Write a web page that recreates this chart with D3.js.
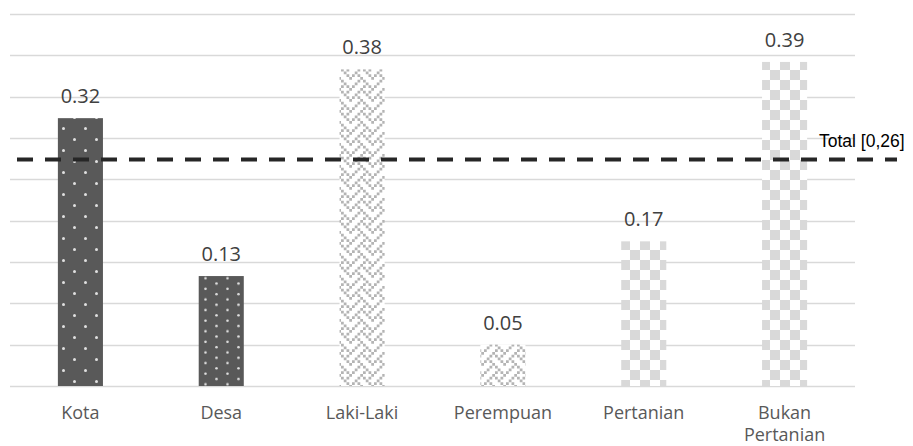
<!DOCTYPE html>
<html>
<head>
<meta charset="utf-8">
<script src="https://cdn.jsdelivr.net/npm/d3@7"></script>
<style>
  html, body { margin: 0; padding: 0; background: #fff; }
  svg { display: block; }
</style>
</head>
<body>
<svg id="chart" width="913" height="446"></svg>
<script>
// ---- data ----
const categories = ["Kota", "Desa", "Laki-Laki", "Perempuan", "Pertanian", "Bukan Pertanian"];
const values = [0.324, 0.133, 0.383, 0.05, 0.175, 0.392];
const valueLabels = ["0.32", "0.13", "0.38", "0.05", "0.17", "0.39"];
const fills = ["dotsLarge", "dotsSmall", "weave", "weave", "checker", "checker"];
const totalValue = 0.274;
const totalLabel = "Total [0,26]";
const gridTicks = [0, 0.05, 0.1, 0.15, 0.2, 0.25, 0.3, 0.35, 0.4, 0.45];

// ---- layout ----
const plot = { left: 10, right: 855, top: 14, bottom: 386 };
const svg = d3.select("#chart");

const x = d3.scaleBand().domain(categories).range([plot.left, plot.right]).padding(0);
const y = d3.scaleLinear().domain([0, 0.45]).range([plot.bottom, plot.top]);
const barW = x.bandwidth() * 0.32;

// ---- patterns ----
const defs = svg.append("defs");
let p = defs.append("pattern").attr("id", "dotsLarge").attr("patternUnits", "userSpaceOnUse")
  .attr("width", 22).attr("height", 22).attr("x", 3).attr("y", 2);
p.append("rect").attr("width", 22).attr("height", 22).attr("fill", "#595959");
[[5.5, 5.5], [16.5, 16.5]].forEach(d => p.append("circle").attr("cx", d[0]).attr("cy", d[1]).attr("r", 1.5).attr("fill", "#e0e0e0"));
p = defs.append("pattern").attr("id", "dotsSmall").attr("patternUnits", "userSpaceOnUse")
  .attr("width", 22).attr("height", 10.6).attr("x", 2).attr("y", 0);
p.append("rect").attr("width", 22).attr("height", 10.6).attr("fill", "#595959");
[[5.5, 2.65], [16.5, 7.95]].forEach(d => p.append("circle").attr("cx", d[0]).attr("cy", d[1]).attr("r", 1.3).attr("fill", "#e0e0e0"));
const weaveBits = [0x11, 0x2a, 0x44, 0xa2, 0x11, 0x28, 0x44, 0x8a];
const cell = 2.75;
p = defs.append("pattern").attr("id", "weave").attr("patternUnits", "userSpaceOnUse")
  .attr("width", cell * 8).attr("height", cell * 8);
p.append("rect").attr("width", cell * 8).attr("height", cell * 8).attr("fill", "#fff");
weaveBits.forEach((b, r) => {
  for (let c = 0; c < 8; c++) {
    if (b & (0x80 >> c)) {
      p.append("rect").attr("x", c * cell).attr("y", r * cell).attr("width", cell).attr("height", cell).attr("fill", "#b4b4b4");
    }
  }
});
p = defs.append("pattern").attr("id", "checker").attr("patternUnits", "userSpaceOnUse")
  .attr("width", 20).attr("height", 20);
p.append("rect").attr("width", 20).attr("height", 20).attr("fill", "#fff");
p.append("rect").attr("width", 10).attr("height", 10).attr("fill", "#d9d9d9");
p.append("rect").attr("x", 10).attr("y", 10).attr("width", 10).attr("height", 10).attr("fill", "#d9d9d9");

// ---- gridlines ----
svg.append("g").selectAll("line").data(gridTicks).join("line")
  .attr("x1", plot.left).attr("x2", plot.right)
  .attr("y1", d => Math.round(y(d)) + 0.5).attr("y2", d => Math.round(y(d)) + 0.5)
  .attr("stroke", "#d9d9d9").attr("stroke-width", 1.4);

// ---- bars ----
svg.append("g").selectAll("rect").data(categories).join("rect")
  .attr("x", d => x(d) + (x.bandwidth() - barW) / 2)
  .attr("width", barW)
  .attr("y", (d, i) => y(values[i]))
  .attr("height", (d, i) => y(0) - y(values[i]))
  .attr("fill", (d, i) => `url(#${fills[i]})`);

// ---- value labels ----
svg.append("g").selectAll("text").data(categories).join("text")
  .attr("x", d => x(d) + x.bandwidth() / 2)
  .attr("y", (d, i) => y(values[i]) - 15)
  .attr("text-anchor", "middle")
  .attr("font-family", "'Open Sans', sans-serif")
  .attr("font-size", 20)
  .attr("fill", "#404040")
  .text((d, i) => valueLabels[i]);

// ---- category labels (wrapped) ----
const catG = svg.append("g");
categories.forEach(c => {
  const words = c.split(" ");
  const lines = words.length > 1 && c.length > 12 ? words : [c];
  const t = catG.append("text")
    .attr("x", x(c) + x.bandwidth() / 2)
    .attr("y", 419)
    .attr("text-anchor", "middle")
    .attr("font-family", "'Open Sans', sans-serif")
    .attr("font-size", 18)
    .attr("fill", "#595959");
  lines.forEach((l, i) => t.append("tspan").attr("x", x(c) + x.bandwidth() / 2).attr("dy", i ? 21.5 : 0).text(l));
});

// ---- total line ----
svg.append("line")
  .attr("x1", 17).attr("x2", 897)
  .attr("y1", y(totalValue)).attr("y2", y(totalValue))
  .attr("stroke", "#262626").attr("stroke-width", 3.8)
  .attr("stroke-dasharray", "16,12");
svg.append("text")
  .attr("x", 819).attr("y", y(totalValue) - 12)
  .attr("font-family", "'Liberation Sans', Arial, sans-serif")
  .attr("font-size", 17.5)
  .attr("fill", "#000")
  .text(totalLabel);
</script>
</body>
</html>
